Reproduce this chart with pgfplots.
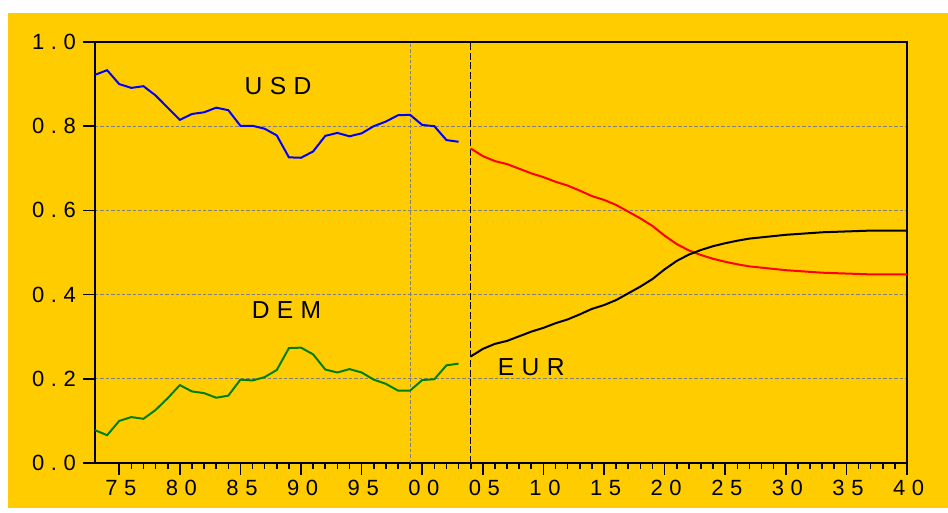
\documentclass[border=0pt]{standalone}
\usepackage{fontspec}
\setmainfont{Liberation Sans}[LetterSpace=30]
\usepackage{pgfplots}
\pgfplotsset{compat=1.18}
\definecolor{bgyellow}{RGB}{255,204,0}
\definecolor{dgreen}{RGB}{0,128,0}
\begin{document}
\begin{tikzpicture}
\useasboundingbox (-47.5pt,-25pt) rectangle (426.5pt,231.5pt);
\fill[white] (-47.5pt,-25pt) rectangle (426.5pt,231.5pt);
\fill[bgyellow] (-43.5pt,-22.5pt) rectangle (426.5pt,225pt);
\begin{axis}[
  at={(0,0)}, anchor=south west,
  scale only axis, width=406pt, height=210.5pt,
  xmin=1973, xmax=2040, ymin=0, ymax=1,
  axis line style={line width=1.3pt},
  xtick={1975,1980,...,2040},
  xticklabels={75,80,85,90,95,00,05,10,15,20,25,30,35,40},
  minor x tick num=4,
  ytick={0,0.2,0.4,0.6,0.8,1.0},
  xtick pos=bottom, ytick pos=left,
  tick align=outside,
  major tick length=6pt, minor tick length=3pt,
  every tick/.style={black, line width=0.8pt},
  /pgf/number format/assume math mode=true,
  yticklabel style={/pgf/number format/fixed, /pgf/number format/fixed zerofill, /pgf/number format/precision=1},
  xticklabel style={yshift=1pt, xshift=0.8pt},
  ticklabel style={font=\fontsize{11}{13}\selectfont},
  ymajorgrids,
  major grid style={gray, line width=0.5pt, dash pattern=on 1.7pt off 1pt},
  clip=false,
]
\draw[gray, line width=0.5pt, dash pattern=on 1.7pt off 1pt] (axis cs:1999,0) -- (axis cs:1999,1);
\draw[black, line width=0.5pt, dash pattern=on 3.5pt off 1.3pt] (axis cs:2004,0) -- (axis cs:2004,1);
% USD
\addplot[blue, line width=1pt] coordinates {
(1973,0.922)(1974,0.933)(1975,0.900)(1976,0.891)(1977,0.895)(1978,0.873)(1979,0.844)(1980,0.815)
(1981,0.829)(1982,0.833)(1983,0.844)(1984,0.838)(1985,0.801)(1986,0.801)(1987,0.794)(1988,0.778)
(1989,0.726)(1990,0.725)(1991,0.740)(1992,0.777)(1993,0.784)(1994,0.776)(1995,0.783)(1996,0.800)
(1997,0.811)(1998,0.826)(1999,0.827)(2000,0.803)(2001,0.800)(2002,0.767)(2003,0.763)};
% DEM
\addplot[dgreen, line width=1pt] coordinates {
(1973,0.078)(1974,0.066)(1975,0.100)(1976,0.109)(1977,0.105)(1978,0.126)(1979,0.154)(1980,0.185)
(1981,0.170)(1982,0.166)(1983,0.155)(1984,0.160)(1985,0.198)(1986,0.196)(1987,0.204)(1988,0.221)
(1989,0.273)(1990,0.274)(1991,0.258)(1992,0.222)(1993,0.215)(1994,0.223)(1995,0.215)(1996,0.198)
(1997,0.188)(1998,0.172)(1999,0.172)(2000,0.197)(2001,0.199)(2002,0.232)(2003,0.236)};
% USD projected
\addplot[red, line width=1pt] coordinates {
(2004,0.747)(2005,0.729)(2006,0.717)(2007,0.710)(2008,0.699)(2009,0.688)(2010,0.679)(2011,0.668)
(2012,0.659)(2013,0.647)(2014,0.634)(2015,0.625)(2016,0.613)(2017,0.597)(2018,0.581)(2019,0.563)
(2020,0.540)(2021,0.520)(2022,0.505)(2023,0.494)(2024,0.485)(2025,0.478)(2026,0.472)(2027,0.467)
(2028,0.464)(2029,0.461)(2030,0.458)(2031,0.456)(2032,0.454)(2033,0.452)(2034,0.451)(2035,0.450)
(2036,0.449)(2037,0.448)(2038,0.448)(2039,0.448)(2040,0.448)};
% EUR
\addplot[black, line width=1pt] coordinates {
(2004,0.253)(2005,0.271)(2006,0.283)(2007,0.290)(2008,0.301)(2009,0.312)(2010,0.321)(2011,0.332)
(2012,0.341)(2013,0.353)(2014,0.366)(2015,0.375)(2016,0.387)(2017,0.403)(2018,0.419)(2019,0.437)
(2020,0.460)(2021,0.480)(2022,0.495)(2023,0.506)(2024,0.515)(2025,0.522)(2026,0.528)(2027,0.533)
(2028,0.536)(2029,0.539)(2030,0.542)(2031,0.544)(2032,0.546)(2033,0.548)(2034,0.549)(2035,0.550)
(2036,0.551)(2037,0.552)(2038,0.552)(2039,0.552)(2040,0.552)};
\node[font=\fontsize{12.3}{14}\selectfont] at (axis cs:1988.1,0.895) {USD};
\node[font=\fontsize{12.3}{14}\selectfont] at (axis cs:1988.8,0.363) {DEM};
\node[font=\fontsize{12.3}{14}\selectfont] at (axis cs:2009.0,0.228) {EUR};
\end{axis}
\end{tikzpicture}
\end{document}
